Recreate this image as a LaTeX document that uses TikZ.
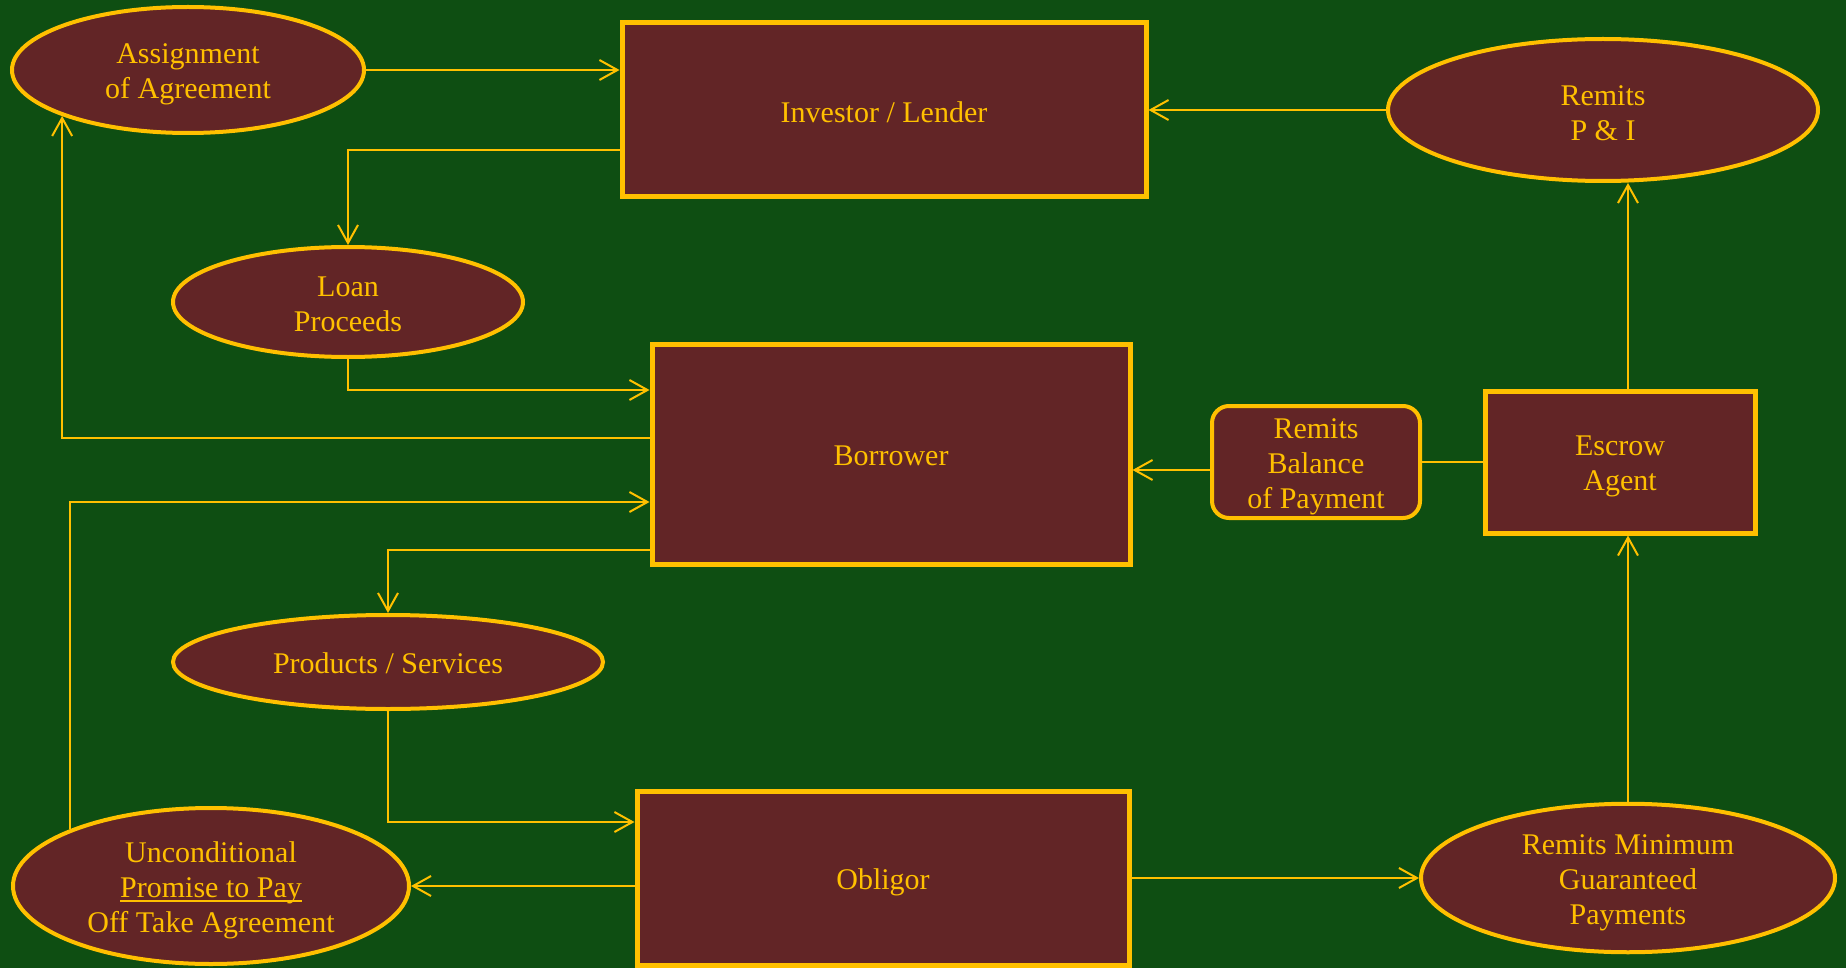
\documentclass[tikz,border=0pt]{standalone}
\usepackage{fontspec}
\setmainfont{Liberation Serif}
\usetikzlibrary{shapes.geometric,arrows.meta}

\definecolor{bggreen}{RGB}{14,78,18}
\definecolor{maroon}{RGB}{98,37,38}
\definecolor{gold}{RGB}{255,192,0}

\newsavebox\paybox
\newcommand{\payline}[1]{\sbox\paybox{#1}\rlap{\rule[-2.5pt]{\wd\paybox}{1pt}}\usebox\paybox}
% text block, dropped a little below the shape centre
\newcommand{\lines}[2][-2.2pt]{\raisebox{#1}[\height][\depth]{\begin{tabular}{@{}c@{}}#2\end{tabular}}}

\tikzset{
	party/.style={draw=gold, fill=maroon, text=gold, line width=2.5pt, inner sep=0pt,
		align=center, font=\fontsize{15}{17.5}\selectfont},
	partybox/.style={party, rectangle},
	flow/.style={party, ellipse, line width=2pt},
	note/.style={party, rectangle, rounded corners=8.5pt, line width=2pt},
	link/.style={draw=gold, line width=1pt, -{Straight Barb[length=9pt,width=10pt]}},
	wire/.style={draw=gold, line width=1pt}}
\tikzset{every picture/.style={line width=1pt}}

\begin{document}
\begin{tikzpicture}[x=0.5pt,y=-0.5pt]
		%Background
		\fill[bggreen] (0,0) rectangle (1846,968);
		\useasboundingbox (0,0) rectangle (1846,968);

		%Shape: Ellipse [id:assign]
		\node[flow, minimum width=176pt, minimum height=63pt] (assign) at (188,70) {\lines{Assignment\\of Agreement}};
		%Shape: Rectangle [id:investor]
		\node[partybox, minimum width=262pt, minimum height=87pt] (investor) at (884,110) {\lines[-3pt]{Investor / Lender}};
		%Shape: Ellipse [id:pandi]
		\node[flow, minimum width=215pt, minimum height=71pt] (pandi) at (1603,110) {\lines[-2.8pt]{Remits\\P \& I}};
		%Shape: Ellipse [id:loan]
		\node[flow, minimum width=175pt, minimum height=55pt] (loan) at (348,302) {\lines[-2.5pt]{Loan\\Proceeds}};
		%Shape: Rectangle [id:borrower]
		\node[partybox, minimum width=239pt, minimum height=110pt] (borrower) at (891,454) {\lines[-2.4pt]{Borrower}};
		%Shape: Rounded Rect [id:balance]
		\node[note, minimum width=104pt, minimum height=56pt] (balance) at (1316,462) {\lines{Remits\\Balance\\of Payment}};
		%Shape: Rectangle [id:escrow]
		\node[partybox, minimum width=135pt, minimum height=71pt] (escrow) at (1620,462) {\lines{Escrow\\Agent}};
		%Shape: Ellipse [id:products]
		\node[flow, minimum width=215pt, minimum height=47pt] (products) at (388,662) {\lines[-2pt]{Products / Services}};
		%Shape: Rectangle [id:obligor]
		\node[partybox, minimum width=246pt, minimum height=87pt] (obligor) at (883,878) {\lines{Obligor}};
		%Shape: Ellipse [id:promise]
		\node[flow, minimum width=198pt, minimum height=78pt] (promise) at (211,886) {\lines{Unconditional\\\payline{Promise to Pay}\\Off Take Agreement}};
		%Shape: Ellipse [id:minimum]
		\node[flow, minimum width=207pt, minimum height=71pt] (minimum) at (1628,878) {\lines{Remits Minimum\\Guaranteed\\Payments}};

		%Straight Lines
		\draw[link] (assign.east) -- (assign.east -| investor.west);
		\draw[link] (investor.west |- 0,150) -| (loan.north);
		\draw[link] (loan.south) |- (borrower.west |- 0,390);
		\draw[link] (borrower.west |- 0,438) -| (assign.south west);
		\draw[link] (promise.north west) |- (borrower.west |- 0,502);
		\draw[link] (borrower.west |- 0,550) -| (products.north);
		\draw[link] (products.south) |- (obligor.west |- 0,822);
		\draw[link] (promise.east -| obligor.west) -- (promise.east);
		\draw[link] (obligor) -- (minimum);
		\draw[link] (minimum.north) -- (minimum.north |- escrow.south);
		\draw[link] (escrow.north -| minimum.north) -- (pandi.south -| minimum.north);
		\draw[link] (pandi) -- (investor);
		\draw[link] (balance.west |- 0,470) -- (borrower.east |- 0,470);
		\draw[wire] (escrow) -- (balance);

\end{tikzpicture}
\end{document}
